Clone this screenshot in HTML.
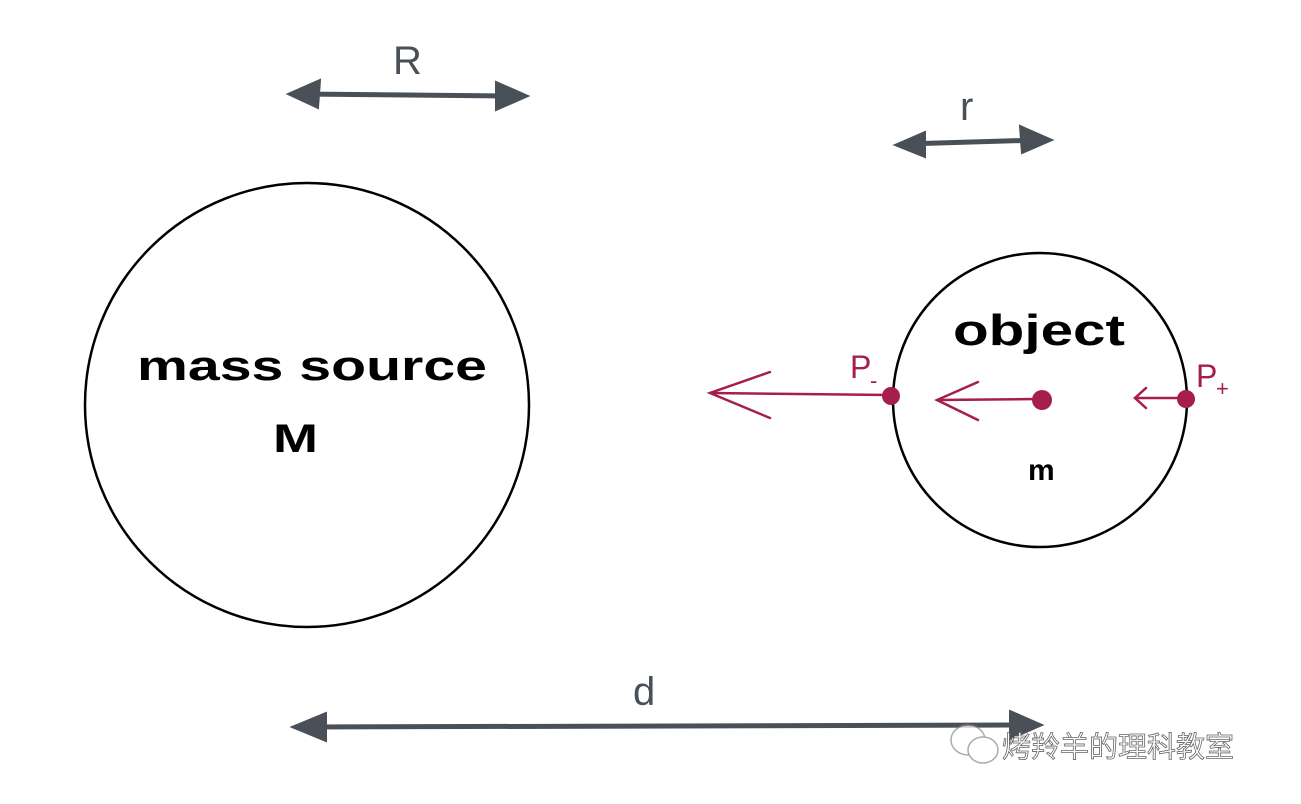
<!DOCTYPE html>
<html><head><meta charset="utf-8"><style>
html,body{margin:0;padding:0;background:#fff;width:1301px;height:804px;overflow:hidden}
svg{display:block}
text{font-family:"Liberation Sans","Noto Sans CJK SC",sans-serif}
</style></head><body>
<svg width="1301" height="804" viewBox="0 0 1301 804" xmlns="http://www.w3.org/2000/svg">
<g fill="none" stroke="#000" stroke-width="2.5">
<circle cx="307" cy="405" r="222"/>
<circle cx="1040" cy="400" r="147"/>
</g>
<g stroke="#495057" stroke-width="5" fill="#495057" stroke-linecap="round">
<line x1="300" y1="94" x2="515" y2="96"/>
<polygon points="288,94 320,80 318,108" stroke-width="2"/>
<polygon points="528,96 496,82 496,110" stroke-width="2"/>
<line x1="905" y1="144" x2="1040" y2="140"/>
<polygon points="895,145 925,132 925,157" stroke-width="2"/>
<polygon points="1052,140 1020,126 1022,153" stroke-width="2"/>
<line x1="305" y1="727" x2="1030" y2="725"/>
<polygon points="292,727 326,713 326,741" stroke-width="2"/>
<polygon points="1042,725 1010,711 1010,739" stroke-width="2"/>
</g>
<g fill="#495057" font-size="40">
<text x="393" y="74">R</text>
<text x="960" y="120">r</text>
<text x="633" y="705">d</text>
</g>
<g fill="#000" font-weight="bold">
<text x="137" y="380" font-size="42" textLength="350" lengthAdjust="spacingAndGlyphs">mass source</text>
<text x="273" y="452" font-size="40" textLength="45" lengthAdjust="spacingAndGlyphs">M</text>
<text x="953" y="345" font-size="44" textLength="172" lengthAdjust="spacingAndGlyphs">object</text>
<text x="1028" y="480" font-size="30">m</text>
</g>
<g stroke="#a61e4d" stroke-width="2.5" fill="none" stroke-linecap="round">
<line x1="710" y1="393" x2="890" y2="395"/>
<polyline points="770,372 710,393 770,418"/>
<line x1="937" y1="400" x2="1040" y2="399"/>
<polyline points="978,382 937,400 978,420"/>
<line x1="1135" y1="398" x2="1185" y2="398"/>
<polyline points="1146,388 1135,398 1146,408"/>
</g>
<g fill="#a61e4d">
<circle cx="891" cy="396" r="9"/>
<circle cx="1042" cy="400" r="10"/>
<circle cx="1186" cy="399" r="9"/>
<text x="850" y="378" font-size="32">P</text>
<text x="870" y="388" font-size="22">-</text>
<text x="1196" y="387" font-size="32">P</text>
<text x="1216" y="396" font-size="22">+</text>
</g>
<g opacity="0.7" fill="#fff" stroke="#888" stroke-width="1.5">
<ellipse cx="968" cy="740" rx="17" ry="15"/>
<ellipse cx="983" cy="750" rx="15" ry="13"/>
</g>
<text x="1002" y="757" font-size="29" fill="#fff" stroke="#666" stroke-width="0.8">烤羚羊的理科教室</text>
</svg>
</body></html>
